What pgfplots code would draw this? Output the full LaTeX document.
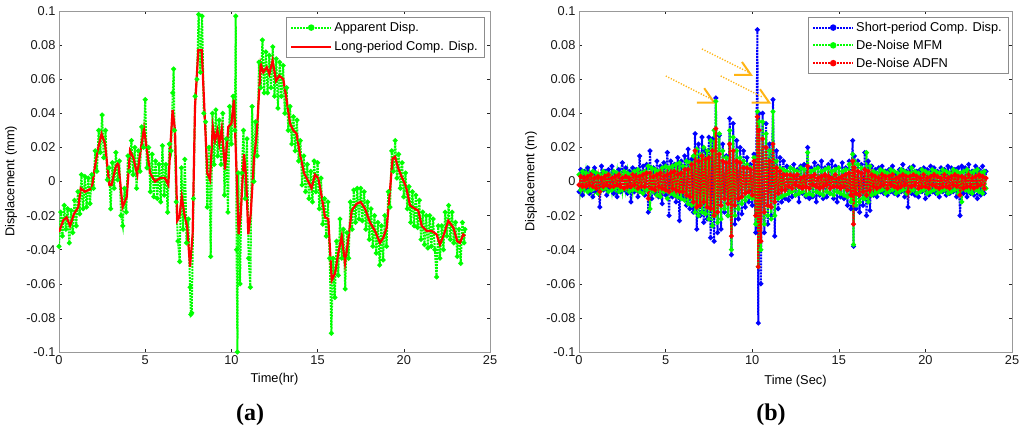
\documentclass[border=0pt]{standalone}
\usepackage{fontspec}
\setmainfont{Liberation Sans}
\newfontfamily\serifb{Liberation Serif}
\usepackage{pgfplots}
\pgfplotsset{compat=1.18}
\definecolor{arr}{RGB}{255,180,20}
\pgfplotsset{
  legend image code/.code={\draw[#1, mark=none] (0pt,0pt) -- (40pt,0pt); \draw[#1, only marks, mark size=2.2pt] plot coordinates {(20pt,0pt)};},
}
\pgfplotsset{
  mystyle/.style={
    anchor=south west, scale only axis, height=341pt,
    xmin=0, xmax=25, ymin=-0.1, ymax=0.1,
    xtick={0,5,10,15,20,25}, xticklabels={0,5,10,15,20,25},
    ytick={-0.1,-0.08,-0.06,-0.04,-0.02,0,0.02,0.04,0.06,0.08,0.1},
    yticklabels={-0.1,-0.08,-0.06,-0.04,-0.02,0,0.02,0.04,0.06,0.08,0.1},
    /pgf/number format/assume math mode=true,
    tick align=inside, major tick length=3pt,
    tick style={black!85, line width=0.6pt},
    axis line style={black!40, line width=0.8pt},
    ticklabel style={font=\fontsize{12.8}{14}\selectfont, text=black!90},
    label style={font=\fontsize{12.8}{14}\selectfont},
    legend style={font=\fontsize{12.8}{14}\selectfont, draw=black!45, fill=white, at={(1,1)}, anchor=north east,
      inner xsep=4pt, inner ysep=3pt, row sep=4.5pt, cells={anchor=west}},
  },
  dots/.style={line width=2pt, dash pattern=on 2pt off 1pt, mark=*, mark size=1.3pt, mark options={solid}},
}
\begin{document}
\begin{tikzpicture}
\useasboundingbox (0pt,0pt) rectangle (1024pt,432pt);
% ---------------- (a)
\begin{axis}[mystyle, at={(59pt,80pt)}, width=431pt,
  xlabel={Time(hr)}, ylabel={Displacement (mm)},
  xlabel style={at={(axis description cs:0.5,-0.079)}, anchor=center},
  ylabel style={at={(axis description cs:-0.1114,0.5)}, anchor=center},
  legend style={xshift=-6pt, yshift=-6pt}]
\addplot[green, dots] coordinates {
(0,-0.038)(0.1,-0.018)(0.2,-0.032)(0.3,-0.014)(0.4,-0.028)(0.5,-0.016)(0.6,-0.036)(0.7,-0.017)(0.8,-0.030)(0.9,-0.011)
(1.0,-0.026)(1.1,-0.006)(1.2,-0.019)(1.3,0.004)(1.4,-0.016)(1.5,0.003)(1.6,-0.015)(1.7,0.002)(1.8,-0.013)(1.9,0.004)
(2.0,-0.004)(2.1,0.018)(2.2,0.006)(2.3,0.030)(2.4,0.017)(2.5,0.039)(2.6,0.014)(2.7,0.030)(2.8,0.001)(2.9,0.008)
(3.0,-0.016)(3.1,0.011)(3.2,-0.004)(3.3,0.017)(3.4,0.001)(3.5,0.012)(3.6,-0.020)(3.7,-0.026)(3.8,-0.004)(3.9,-0.018)
(4.0,0.015)(4.1,0.006)(4.2,0.024)(4.3,0.004)(4.4,0.020)(4.5,-0.004)(4.6,0.018)(4.7,0.006)(4.8,0.032)(4.9,0.020)
(5.0,0.048)(5.1,0.008)(5.2,0.020)(5.3,-0.006)(5.4,0.016)(5.5,-0.009)(5.6,0.012)(5.7,-0.010)(5.8,0.010)(5.9,-0.012)
(6.0,0.021)(6.1,-0.008)(6.2,0.010)(6.3,-0.018)(6.4,0.022)(6.5,0.018)(6.6,0.052)(6.65,0.066)(6.7,0.030)(6.8,-0.012)
(6.9,-0.035)(7.0,-0.047)(7.1,0.008)(7.2,-0.028)(7.3,0.013)(7.4,-0.036)(7.5,-0.022)(7.6,-0.062)(7.65,-0.078)(7.7,-0.077)
(7.8,-0.010)(7.9,0.050)(8.0,0.060)(8.1,0.098)(8.2,0.064)(8.3,0.097)(8.4,0.040)(8.5,0.035)(8.6,-0.015)(8.7,0.020)
(8.8,-0.044)(8.9,0.040)(9.0,0.010)(9.1,0.042)(9.2,0.015)(9.3,0.036)(9.4,0.010)(9.5,0.040)(9.6,-0.008)(9.7,0.025)
(9.8,-0.018)(9.9,0.044)(10.0,0.022)(10.1,0.050)(10.2,0.030)(10.25,0.097)(10.3,-0.040)(10.35,-0.100)(10.4,0.005)(10.5,-0.060)
(10.6,0.005)(10.7,0.030)(10.8,-0.010)(10.9,0.025)(11.0,-0.045)(11.1,-0.062)(11.2,0.044)(11.3,0.000)(11.4,0.035)(11.5,0.015)
(11.6,0.070)(11.7,0.055)(11.8,0.083)(11.9,0.052)(12.0,0.076)(12.1,0.052)(12.2,0.074)(12.3,0.055)(12.4,0.079)(12.5,0.050)
(12.6,0.072)(12.7,0.043)(12.8,0.070)(12.9,0.050)(13.0,0.068)(13.1,0.040)(13.2,0.055)(13.3,0.030)(13.4,0.044)(13.5,0.022)
(13.6,0.038)(13.7,0.018)(13.8,0.036)(13.9,0.012)(14.0,0.024)(14.1,-0.002)(14.2,0.015)(14.3,-0.006)(14.4,0.010)(14.5,-0.010)
(14.6,0.006)(14.7,-0.012)(14.8,0.012)(14.9,-0.006)(15.0,0.011)(15.1,-0.016)(15.2,0.002)(15.3,-0.025)(15.4,-0.010)(15.5,-0.032)
(15.6,-0.012)(15.7,-0.045)(15.8,-0.089)(15.9,-0.045)(16.0,-0.068)(16.1,-0.035)(16.2,-0.055)(16.3,-0.022)(16.4,-0.045)(16.5,-0.028)
(16.6,-0.063)(16.7,-0.030)(16.8,-0.045)(16.9,-0.012)(17.0,-0.028)(17.1,-0.005)(17.2,-0.024)(17.3,-0.004)(17.4,-0.022)(17.5,-0.004)
(17.6,-0.023)(17.7,-0.006)(17.8,-0.028)(17.9,-0.012)(18.0,-0.034)(18.1,-0.016)(18.2,-0.038)(18.3,-0.020)(18.4,-0.042)(18.5,-0.024)
(18.6,-0.049)(18.7,-0.026)(18.8,-0.046)(18.9,-0.020)(19.0,-0.038)(19.1,-0.006)(19.2,-0.015)(19.3,0.018)(19.4,0.006)(19.5,0.024)
(19.6,0.002)(19.7,0.016)(19.8,-0.004)(19.9,0.011)(20.0,-0.009)(20.1,0.005)(20.2,-0.016)(20.3,-0.003)(20.4,-0.024)(20.5,-0.006)
(20.6,-0.026)(20.7,-0.008)(20.8,-0.027)(20.9,-0.011)(21.0,-0.034)(21.1,-0.018)(21.2,-0.037)(21.3,-0.020)(21.4,-0.039)(21.5,-0.020)
(21.6,-0.038)(21.7,-0.022)(21.8,-0.040)(21.9,-0.056)(22.0,-0.026)(22.1,-0.045)(22.2,-0.026)(22.3,-0.040)(22.4,-0.018)(22.5,-0.032)
(22.6,-0.014)(22.7,-0.034)(22.8,-0.018)(22.9,-0.036)(23.0,-0.024)(23.1,-0.044)(23.2,-0.028)(23.3,-0.048)(23.4,-0.024)(23.5,-0.036)
(23.55,-0.028)};
\addlegendentry{Apparent Disp.}
\addplot[red, line width=2.2pt] coordinates {
(0,-0.0296)(0.25,-0.0227)(0.44,-0.021)(0.64,-0.026)(0.87,-0.019)(1.12,-0.015)(1.26,-0.004)(1.5,-0.006)(1.7,-0.005)(1.9,-0.004)
(2.09,0.009)(2.28,0.020)(2.47,0.028)(2.67,0.022)(2.92,-0.002)(3.05,-0.002)(3.3,0.009)(3.44,0.011)(3.69,-0.015)(3.93,-0.009)
(4.12,0.018)(4.31,0.014)(4.54,0.004)(4.70,0.016)(4.93,0.031)(5.08,0.020)(5.28,0.005)(5.57,0.000)(5.86,0.002)(6.15,0.002)
(6.34,-0.002)(6.48,0.024)(6.59,0.042)(6.73,0.030)(6.86,-0.023)(6.98,-0.021)(7.12,-0.009)(7.27,-0.019)(7.44,-0.027)(7.6,-0.050)
(7.75,-0.031)(7.89,0.044)(8.08,0.077)(8.28,0.077)(8.41,0.048)(8.6,0.005)(8.76,0.001)(8.92,0.032)(9.05,0.024)(9.19,0.030)
(9.3,0.022)(9.44,0.031)(9.63,0.007)(9.82,0.032)(10.0,0.034)(10.15,0.048)(10.3,0.005)(10.42,-0.031)(10.54,-0.019)(10.73,0.016)
(10.85,0.003)(10.98,-0.031)(11.12,-0.019)(11.31,0.013)(11.47,0.028)(11.7,0.069)(11.85,0.064)(12.05,0.067)(12.2,0.063)(12.39,0.071)
(12.59,0.059)(12.78,0.062)(13.01,0.060)(13.2,0.048)(13.4,0.034)(13.59,0.030)(13.78,0.028)(13.98,0.016)(14.21,0.005)(14.46,0.000)
(14.65,-0.004)(14.85,0.004)(15.04,0.002)(15.24,-0.009)(15.43,-0.021)(15.62,-0.022)(15.82,-0.058)(16.01,-0.054)(16.2,-0.042)(16.4,-0.032)
(16.59,-0.048)(16.78,-0.034)(16.98,-0.017)(17.27,-0.013)(17.5,-0.012)(17.75,-0.016)(18.04,-0.024)(18.33,-0.029)(18.62,-0.036)(18.81,-0.033)
(19.01,-0.027)(19.2,-0.005)(19.35,0.0135)(19.49,0.0145)(19.68,0.0076)(19.88,0.0027)(20.13,-0.003)(20.36,-0.014)(20.65,-0.016)(20.84,-0.017)
(21.04,-0.026)(21.33,-0.029)(21.62,-0.029)(21.9,-0.031)(22.1,-0.037)(22.33,-0.031)(22.58,-0.023)(22.87,-0.027)(23.1,-0.035)(23.26,-0.036)
(23.45,-0.031)(23.55,-0.032)};
\addlegendentry{Long-period Comp. Disp.}
\end{axis}
% ---------------- (b)
\begin{axis}[mystyle, at={(579pt,80pt)}, width=433pt,
  xlabel={Time (Sec)}, ylabel={Displacement (m)},
  xlabel style={at={(axis description cs:0.5,-0.085)}, anchor=center},
  ylabel style={at={(axis description cs:-0.111,0.5)}, anchor=center},
  legend style={xshift=-4pt, yshift=-6pt, row sep=3pt}]
\addplot[blue, dots] coordinates {
(0.0,-0.006)(0.1,0.007)(0.2,-0.008)(0.3,0.006)(0.4,-0.004)(0.5,0.008)(0.6,-0.007)(0.7,0.005)(0.8,-0.009)(0.9,0.008)
(1.0,-0.006)(1.1,0.004)(1.2,-0.015)(1.3,0.009)(1.4,-0.005)(1.5,0.006)(1.6,-0.008)(1.7,0.007)(1.8,-0.004)(1.9,0.009)
(2.0,-0.007)(2.1,0.005)(2.2,-0.009)(2.3,0.007)(2.4,-0.006)(2.5,0.011)(2.6,-0.005)(2.7,0.008)(2.8,-0.007)(2.9,0.006)
(3.0,-0.012)(3.1,0.008)(3.2,-0.006)(3.3,0.007)(3.4,-0.009)(3.5,0.015)(3.6,-0.006)(3.7,0.009)(3.8,-0.008)(3.9,0.010)
(4.0,-0.018)(4.1,0.018)(4.2,-0.010)(4.3,0.008)(4.4,-0.007)(4.5,0.012)(4.6,-0.009)(4.7,0.009)(4.8,-0.013)(4.9,0.011)
(5.0,-0.008)(5.1,0.017)(5.2,-0.020)(5.3,0.012)(5.4,-0.009)(5.5,0.010)(5.6,-0.012)(5.7,0.014)(5.8,-0.023)(5.9,0.012)
(6.0,-0.010)(6.1,0.015)(6.2,-0.014)(6.3,0.019)(6.4,-0.016)(6.5,0.013)(6.6,-0.018)(6.7,0.028)(6.8,-0.028)(6.9,0.022)
(7.0,-0.020)(7.1,0.026)(7.2,-0.024)(7.3,0.018)(7.4,-0.022)(7.5,0.026)(7.6,-0.033)(7.7,0.025)(7.8,-0.035)(7.9,0.049)
(8.0,-0.030)(8.1,0.027)(8.2,-0.028)(8.3,0.022)(8.4,-0.018)(8.5,0.015)(8.6,-0.020)(8.7,0.037)(8.8,-0.043)(8.9,0.034)
(9.0,-0.025)(9.1,0.024)(9.2,-0.022)(9.3,0.020)(9.4,-0.019)(9.5,0.018)(9.6,-0.015)(9.7,0.014)(9.8,-0.012)(9.9,0.010)
(10.0,-0.014)(10.1,0.016)(10.2,-0.030)(10.3,0.089)(10.35,-0.083)(10.4,0.040)(10.5,-0.060)(10.6,0.040)(10.7,-0.030)(10.8,0.034)
(10.9,-0.025)(11.0,0.022)(11.1,-0.020)(11.2,0.048)(11.3,-0.032)(11.4,0.018)(11.5,-0.016)(11.6,0.014)(11.7,-0.012)(11.8,0.012)
(11.9,-0.010)(12.0,0.009)(12.1,-0.011)(12.2,0.008)(12.3,-0.009)(12.4,0.010)(12.5,-0.008)(12.6,0.007)(12.7,-0.012)(12.8,0.009)
(12.9,-0.007)(13.0,0.010)(13.1,-0.009)(13.2,0.020)(13.3,-0.010)(13.4,0.008)(13.5,-0.009)(13.6,0.011)(13.7,-0.012)(13.8,0.009)
(13.9,-0.008)(14.0,0.012)(14.1,-0.010)(14.2,0.008)(14.3,-0.009)(14.4,0.010)(14.5,-0.007)(14.6,0.012)(14.7,-0.010)(14.8,0.009)
(14.9,-0.012)(15.0,0.008)(15.1,-0.009)(15.2,0.011)(15.3,-0.010)(15.4,0.008)(15.5,-0.014)(15.6,0.012)(15.7,-0.016)(15.8,0.024)
(15.85,-0.038)(15.9,0.015)(16.0,-0.016)(16.1,0.012)(16.2,-0.018)(16.3,0.010)(16.4,-0.014)(16.5,0.017)(16.6,-0.020)(16.7,0.012)
(16.8,-0.017)(16.9,0.009)(17.0,-0.008)(17.1,0.007)(17.2,-0.009)(17.3,0.008)(17.4,-0.006)(17.5,0.009)(17.6,-0.007)(17.7,0.006)
(17.8,-0.008)(17.9,0.007)(18.0,-0.006)(18.1,0.009)(18.2,-0.007)(18.3,0.005)(18.4,-0.008)(18.5,0.007)(18.6,-0.006)(18.7,0.010)
(18.8,-0.009)(18.9,0.006)(19.0,-0.015)(19.1,0.008)(19.2,-0.007)(19.3,0.009)(19.4,-0.008)(19.5,0.006)(19.6,-0.009)(19.7,0.007)
(19.8,-0.006)(19.9,0.008)(20.0,-0.010)(20.1,0.007)(20.2,-0.008)(20.3,0.009)(20.4,-0.006)(20.5,0.008)(20.6,-0.007)(20.7,0.006)
(20.8,-0.009)(20.9,0.008)(21.0,-0.006)(21.1,0.007)(21.2,-0.008)(21.3,0.009)(21.4,-0.007)(21.5,0.008)(21.6,-0.006)(21.7,0.007)
(21.8,-0.009)(21.9,0.008)(22.0,-0.020)(22.1,0.009)(22.2,-0.007)(22.3,0.008)(22.4,-0.009)(22.5,0.010)(22.6,-0.007)(22.7,0.006)
(22.8,-0.008)(22.9,0.009)(23.0,-0.010)(23.1,0.007)(23.2,-0.008)(23.3,0.009)(23.4,-0.007)(23.5,0.006)};
\addlegendentry{Short-period Comp. Disp.}
\addplot[green, dots] coordinates {
(0.0,0.004)(0.1,-0.005)(0.2,0.006)(0.3,-0.004)(0.4,0.005)(0.5,-0.006)(0.6,0.004)(0.7,-0.005)(0.8,0.006)(0.9,-0.004)
(1.0,0.005)(1.1,-0.007)(1.2,0.004)(1.3,-0.005)(1.4,0.006)(1.5,-0.004)(1.6,0.005)(1.7,-0.006)(1.8,0.004)(1.9,-0.005)
(2.0,0.006)(2.1,-0.004)(2.2,0.005)(2.3,-0.006)(2.4,0.004)(2.5,-0.005)(2.6,0.006)(2.7,-0.004)(2.8,0.005)(2.9,-0.006)
(3.0,0.004)(3.1,-0.005)(3.2,0.006)(3.3,-0.005)(3.4,0.007)(3.5,-0.006)(3.6,0.005)(3.7,-0.007)(3.8,0.006)(3.9,-0.005)
(4.0,0.009)(4.1,-0.016)(4.2,0.008)(4.3,-0.006)(4.4,0.007)(4.5,-0.008)(4.6,0.006)(4.7,-0.009)(4.8,0.008)(4.9,-0.006)
(5.0,0.009)(5.1,-0.010)(5.2,0.008)(5.3,-0.007)(5.4,0.009)(5.5,-0.008)(5.6,0.010)(5.7,-0.009)(5.8,0.011)(5.9,-0.010)
(6.0,0.009)(6.1,-0.011)(6.2,0.012)(6.3,-0.013)(6.4,0.011)(6.5,-0.014)(6.6,0.015)(6.7,-0.018)(6.8,0.019)(6.9,-0.020)
(7.0,0.016)(7.1,-0.018)(7.2,0.020)(7.3,-0.019)(7.4,0.018)(7.5,-0.022)(7.6,0.024)(7.7,-0.026)(7.8,0.030)(7.85,-0.020)
(7.9,0.047)(8.0,-0.024)(8.1,0.028)(8.2,-0.022)(8.3,0.018)(8.4,-0.016)(8.5,0.014)(8.6,-0.020)(8.7,0.030)(8.8,-0.040)
(8.9,0.026)(9.0,-0.020)(9.1,0.018)(9.2,-0.016)(9.3,0.014)(9.4,-0.013)(9.5,0.012)(9.6,-0.011)(9.7,0.010)(9.8,-0.009)
(9.9,0.008)(10.0,-0.010)(10.1,0.014)(10.2,-0.025)(10.3,0.041)(10.35,-0.050)(10.4,0.035)(10.5,-0.040)(10.6,0.035)(10.7,-0.025)
(10.8,0.028)(10.9,-0.020)(11.0,0.018)(11.1,-0.022)(11.2,0.041)(11.3,-0.020)(11.4,0.012)(11.5,-0.010)(11.6,0.008)(11.7,-0.009)
(11.8,0.007)(11.9,-0.008)(12.0,0.006)(12.1,-0.007)(12.2,0.008)(12.3,-0.006)(12.4,0.007)(12.5,-0.008)(12.6,0.006)(12.7,-0.007)
(12.8,0.008)(12.9,-0.006)(13.0,0.007)(13.1,-0.008)(13.2,0.017)(13.3,-0.007)(13.4,0.006)(13.5,-0.008)(13.6,0.007)(13.7,-0.006)
(13.8,0.008)(13.9,-0.007)(14.0,0.006)(14.1,-0.008)(14.2,0.007)(14.3,-0.006)(14.4,0.008)(14.5,-0.007)(14.6,0.006)(14.7,-0.008)
(14.8,0.007)(14.9,-0.006)(15.0,0.008)(15.1,-0.007)(15.2,0.006)(15.3,-0.008)(15.4,0.007)(15.5,-0.009)(15.6,0.010)(15.7,-0.012)
(15.8,0.016)(15.85,-0.037)(15.9,0.012)(16.0,-0.014)(16.1,0.010)(16.2,-0.012)(16.3,0.008)(16.4,-0.010)(16.5,-0.010)(16.6,0.017)
(16.7,-0.012)(16.8,0.009)(16.9,-0.008)(17.0,0.006)(17.1,-0.007)(17.2,0.005)(17.3,-0.006)(17.4,0.007)(17.5,-0.005)(17.6,0.006)
(17.7,-0.007)(17.8,0.005)(17.9,-0.006)(18.0,0.007)(18.1,-0.005)(18.2,0.006)(18.3,-0.007)(18.4,0.005)(18.5,-0.006)(18.6,0.007)
(18.7,-0.005)(18.8,0.006)(18.9,-0.007)(19.0,0.005)(19.1,-0.006)(19.2,0.008)(19.3,-0.005)(19.4,0.006)(19.5,-0.007)(19.6,0.005)
(19.7,-0.006)(19.8,0.007)(19.9,-0.005)(20.0,0.006)(20.1,-0.007)(20.2,0.005)(20.3,-0.006)(20.4,0.007)(20.5,-0.005)(20.6,0.006)
(20.7,-0.007)(20.8,0.005)(20.9,-0.006)(21.0,0.007)(21.1,-0.005)(21.2,0.006)(21.3,-0.007)(21.4,0.005)(21.5,-0.006)(21.6,0.007)
(21.7,-0.005)(21.8,0.006)(21.9,-0.007)(22.0,0.005)(22.1,-0.012)(22.2,0.006)(22.3,-0.005)(22.4,0.007)(22.5,-0.006)(22.6,0.005)
(22.7,-0.007)(22.8,0.006)(22.9,-0.005)(23.0,0.007)(23.1,-0.006)(23.2,0.005)(23.3,-0.007)(23.4,0.006)(23.5,-0.004)};
\addlegendentry{De-Noise MFM}
\addplot[red, dots] coordinates {
(0.0,-0.002)(0.1,0.003)(0.2,-0.003)(0.3,0.002)(0.4,-0.003)(0.5,0.003)(0.6,-0.002)(0.7,0.004)(0.8,-0.003)(0.9,0.002)
(1.0,-0.004)(1.1,0.003)(1.2,-0.006)(1.3,0.002)(1.4,-0.003)(1.5,0.003)(1.6,-0.002)(1.7,0.004)(1.8,-0.003)(1.9,0.002)
(2.0,-0.003)(2.1,0.003)(2.2,-0.002)(2.3,0.004)(2.4,-0.003)(2.5,0.002)(2.6,-0.004)(2.7,0.003)(2.8,-0.003)(2.9,0.002)
(3.0,-0.003)(3.1,0.004)(3.2,-0.002)(3.3,0.003)(3.4,-0.004)(3.5,0.003)(3.6,-0.003)(3.7,0.004)(3.8,-0.003)(3.9,0.005)
(4.0,-0.010)(4.1,0.005)(4.2,-0.004)(4.3,0.003)(4.4,-0.005)(4.5,0.004)(4.6,-0.003)(4.7,0.005)(4.8,-0.004)(4.9,0.003)
(5.0,-0.005)(5.1,0.004)(5.2,-0.006)(5.3,0.005)(5.4,-0.004)(5.5,0.006)(5.6,-0.005)(5.7,0.004)(5.8,-0.006)(5.9,0.005)
(6.0,-0.006)(6.1,0.007)(6.2,-0.008)(6.3,0.007)(6.4,-0.009)(6.5,0.010)(6.6,-0.012)(6.7,0.018)(6.8,-0.015)(6.9,0.012)
(7.0,-0.014)(7.1,0.015)(7.2,-0.012)(7.3,0.013)(7.4,-0.015)(7.5,0.014)(7.6,-0.016)(7.7,0.018)(7.8,-0.020)(7.9,0.031)
(8.0,-0.018)(8.1,0.016)(8.2,-0.014)(8.3,0.012)(8.4,-0.010)(8.5,0.011)(8.6,-0.013)(8.7,0.022)(8.8,-0.032)(8.9,0.018)
(9.0,-0.014)(9.1,0.012)(9.2,-0.010)(9.3,0.011)(9.4,-0.009)(9.5,0.008)(9.6,-0.007)(9.7,0.008)(9.8,-0.006)(9.9,0.007)
(10.0,-0.008)(10.1,0.012)(10.2,-0.020)(10.3,0.038)(10.35,-0.050)(10.4,0.030)(10.5,-0.035)(10.6,0.025)(10.7,-0.018)(10.8,0.020)
(10.9,-0.014)(11.0,0.012)(11.1,-0.015)(11.2,0.022)(11.3,-0.012)(11.4,0.008)(11.5,-0.007)(11.6,0.006)(11.7,-0.005)(11.8,0.004)
(11.9,-0.005)(12.0,0.004)(12.1,-0.003)(12.2,0.004)(12.3,-0.004)(12.4,0.003)(12.5,-0.002)(12.6,0.004)(12.7,-0.003)(12.8,0.002)
(12.9,-0.004)(13.0,0.003)(13.1,-0.003)(13.2,0.009)(13.3,-0.004)(13.4,0.003)(13.5,-0.002)(13.6,0.004)(13.7,-0.003)(13.8,0.002)
(13.9,-0.004)(14.0,0.003)(14.1,-0.003)(14.2,0.004)(14.3,-0.002)(14.4,0.003)(14.5,-0.004)(14.6,0.002)(14.7,-0.003)(14.8,0.004)
(14.9,-0.003)(15.0,0.002)(15.1,-0.004)(15.2,0.003)(15.3,-0.003)(15.4,0.004)(15.5,-0.005)(15.6,0.005)(15.7,-0.008)(15.8,0.012)
(15.85,-0.025)(15.9,0.008)(16.0,-0.007)(16.1,0.006)(16.2,-0.008)(16.3,0.005)(16.4,-0.006)(16.5,0.007)(16.6,-0.008)(16.7,0.006)
(16.8,-0.005)(16.9,0.004)(17.0,-0.003)(17.1,0.003)(17.2,-0.004)(17.3,0.002)(17.4,-0.003)(17.5,0.004)(17.6,-0.002)(17.7,0.003)
(17.8,-0.004)(17.9,0.003)(18.0,-0.002)(18.1,0.004)(18.2,-0.003)(18.3,0.002)(18.4,-0.004)(18.5,0.003)(18.6,-0.003)(18.7,0.004)
(18.8,-0.002)(18.9,0.003)(19.0,-0.006)(19.1,0.003)(19.2,-0.003)(19.3,0.004)(19.4,-0.002)(19.5,0.003)(19.6,-0.004)(19.7,0.002)
(19.8,-0.003)(19.9,0.004)(20.0,-0.003)(20.1,0.002)(20.2,-0.004)(20.3,0.003)(20.4,-0.002)(20.5,0.004)(20.6,-0.003)(20.7,0.003)
(20.8,-0.004)(20.9,0.002)(21.0,-0.003)(21.1,0.004)(21.2,-0.003)(21.3,0.002)(21.4,-0.004)(21.5,0.003)(21.6,-0.002)(21.7,0.004)
(21.8,-0.003)(21.9,0.003)(22.0,-0.008)(22.1,0.003)(22.2,-0.004)(22.3,0.002)(22.4,-0.003)(22.5,0.004)(22.6,-0.003)(22.7,0.002)
(22.8,-0.004)(22.9,0.003)(23.0,-0.003)(23.1,0.004)(23.2,-0.002)(23.3,0.003)(23.4,-0.004)(23.5,0.002)};
\addlegendentry{De-Noise ADFN}
% arrows (annotations)
\draw[arr, line width=1.4pt, dash pattern=on 1.2pt off 1.6pt] (axis cs:5.01,0.0619) -- (axis cs:7.66,0.0482);
\draw[arr, line width=1.4pt, dash pattern=on 1.2pt off 1.6pt] (axis cs:7.10,0.0777) -- (axis cs:9.76,0.0642);
\draw[arr, line width=1.4pt, dash pattern=on 1.2pt off 1.6pt] (axis cs:8.18,0.0619) -- (axis cs:10.55,0.0497);
\draw[arr, line width=2pt] (axis cs:6.81,0.0462) -- (axis cs:7.81,0.0462) -- (axis cs:7.23,0.0547);
\draw[arr, line width=2pt] (axis cs:8.95,0.0625) -- (axis cs:9.93,0.0625) -- (axis cs:9.41,0.0701);
\draw[arr, line width=2pt] (axis cs:9.97,0.0462) -- (axis cs:10.99,0.0462) -- (axis cs:10.45,0.0541);
\end{axis}
\node[font=\serifb\bfseries\fontsize{24}{26}\selectfont] at (250pt,17pt) {(a)};
\node[font=\serifb\bfseries\fontsize{24}{26}\selectfont] at (771pt,17pt) {(b)};
\end{tikzpicture}
\end{document}
